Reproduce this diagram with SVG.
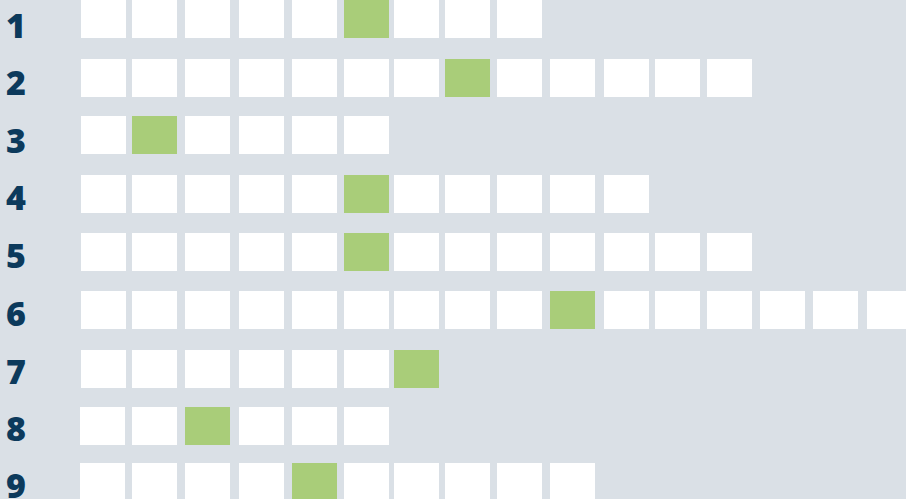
<svg xmlns="http://www.w3.org/2000/svg" width="906" height="499" viewBox="0 0 906 499">
<style>
.c{fill:#ffffff}
.g{fill:#a9cd79}
.n{font-family:"Open Sans","Noto Sans","DejaVu Sans",sans-serif;font-weight:800;font-size:34px;fill:#0c3a5c}
</style>
<rect width="906" height="499" fill="#dae0e6"/>
<defs>
<rect id="b" width="45" height="38"/>
</defs>
<g id="row1">
<text class="n" x="6" y="38">1</text>
<use href="#b" class="c" x="81" y="0"/><use href="#b" class="c" x="132" y="0"/><use href="#b" class="c" x="185" y="0"/><use href="#b" class="c" x="239" y="0"/><use href="#b" class="c" x="292" y="0"/><use href="#b" class="g" x="344" y="0"/><use href="#b" class="c" x="394" y="0"/><use href="#b" class="c" x="445" y="0"/><use href="#b" class="c" x="497" y="0"/>
</g>
<g id="row2">
<text class="n" x="6" y="95">2</text>
<use href="#b" class="c" x="81" y="59"/><use href="#b" class="c" x="132" y="59"/><use href="#b" class="c" x="185" y="59"/><use href="#b" class="c" x="239" y="59"/><use href="#b" class="c" x="292" y="59"/><use href="#b" class="c" x="344" y="59"/><use href="#b" class="c" x="394" y="59"/><use href="#b" class="g" x="445" y="59"/><use href="#b" class="c" x="497" y="59"/><use href="#b" class="c" x="550" y="59"/><use href="#b" class="c" x="604" y="59"/><use href="#b" class="c" x="655" y="59"/><use href="#b" class="c" x="707" y="59"/>
</g>
<g id="row3">
<text class="n" x="6" y="153">3</text>
<use href="#b" class="c" x="81" y="116"/><use href="#b" class="g" x="132" y="116"/><use href="#b" class="c" x="185" y="116"/><use href="#b" class="c" x="239" y="116"/><use href="#b" class="c" x="292" y="116"/><use href="#b" class="c" x="344" y="116"/>
</g>
<g id="row4">
<text class="n" x="6" y="210">4</text>
<use href="#b" class="c" x="81" y="175"/><use href="#b" class="c" x="132" y="175"/><use href="#b" class="c" x="185" y="175"/><use href="#b" class="c" x="239" y="175"/><use href="#b" class="c" x="292" y="175"/><use href="#b" class="g" x="344" y="175"/><use href="#b" class="c" x="394" y="175"/><use href="#b" class="c" x="445" y="175"/><use href="#b" class="c" x="497" y="175"/><use href="#b" class="c" x="550" y="175"/><use href="#b" class="c" x="604" y="175"/>
</g>
<g id="row5">
<text class="n" x="6" y="268">5</text>
<use href="#b" class="c" x="81" y="233"/><use href="#b" class="c" x="132" y="233"/><use href="#b" class="c" x="185" y="233"/><use href="#b" class="c" x="239" y="233"/><use href="#b" class="c" x="292" y="233"/><use href="#b" class="g" x="344" y="233"/><use href="#b" class="c" x="394" y="233"/><use href="#b" class="c" x="445" y="233"/><use href="#b" class="c" x="497" y="233"/><use href="#b" class="c" x="550" y="233"/><use href="#b" class="c" x="604" y="233"/><use href="#b" class="c" x="655" y="233"/><use href="#b" class="c" x="707" y="233"/>
</g>
<g id="row6">
<text class="n" x="6" y="326">6</text>
<use href="#b" class="c" x="81" y="291"/><use href="#b" class="c" x="132" y="291"/><use href="#b" class="c" x="185" y="291"/><use href="#b" class="c" x="239" y="291"/><use href="#b" class="c" x="292" y="291"/><use href="#b" class="c" x="344" y="291"/><use href="#b" class="c" x="394" y="291"/><use href="#b" class="c" x="445" y="291"/><use href="#b" class="c" x="497" y="291"/><use href="#b" class="g" x="550" y="291"/><use href="#b" class="c" x="604" y="291"/><use href="#b" class="c" x="655" y="291"/><use href="#b" class="c" x="707" y="291"/><use href="#b" class="c" x="760" y="291"/><use href="#b" class="c" x="813" y="291"/><use href="#b" class="c" x="867" y="291"/>
</g>
<g id="row7">
<text class="n" x="6" y="384">7</text>
<use href="#b" class="c" x="81" y="350"/><use href="#b" class="c" x="132" y="350"/><use href="#b" class="c" x="185" y="350"/><use href="#b" class="c" x="239" y="350"/><use href="#b" class="c" x="292" y="350"/><use href="#b" class="c" x="344" y="350"/><use href="#b" class="g" x="394" y="350"/>
</g>
<g id="row8">
<text class="n" x="6" y="441">8</text>
<use href="#b" class="c" x="80" y="407"/><use href="#b" class="c" x="132" y="407"/><use href="#b" class="g" x="185" y="407"/><use href="#b" class="c" x="239" y="407"/><use href="#b" class="c" x="292" y="407"/><use href="#b" class="c" x="344" y="407"/>
</g>
<g id="row9">
<text class="n" x="6" y="498">9</text>
<use href="#b" class="c" x="80" y="463"/><use href="#b" class="c" x="132" y="463"/><use href="#b" class="c" x="185" y="463"/><use href="#b" class="c" x="239" y="463"/><use href="#b" class="g" x="292" y="463"/><use href="#b" class="c" x="344" y="463"/><use href="#b" class="c" x="394" y="463"/><use href="#b" class="c" x="445" y="463"/><use href="#b" class="c" x="497" y="463"/><use href="#b" class="c" x="550" y="463"/>
</g>
</svg>
